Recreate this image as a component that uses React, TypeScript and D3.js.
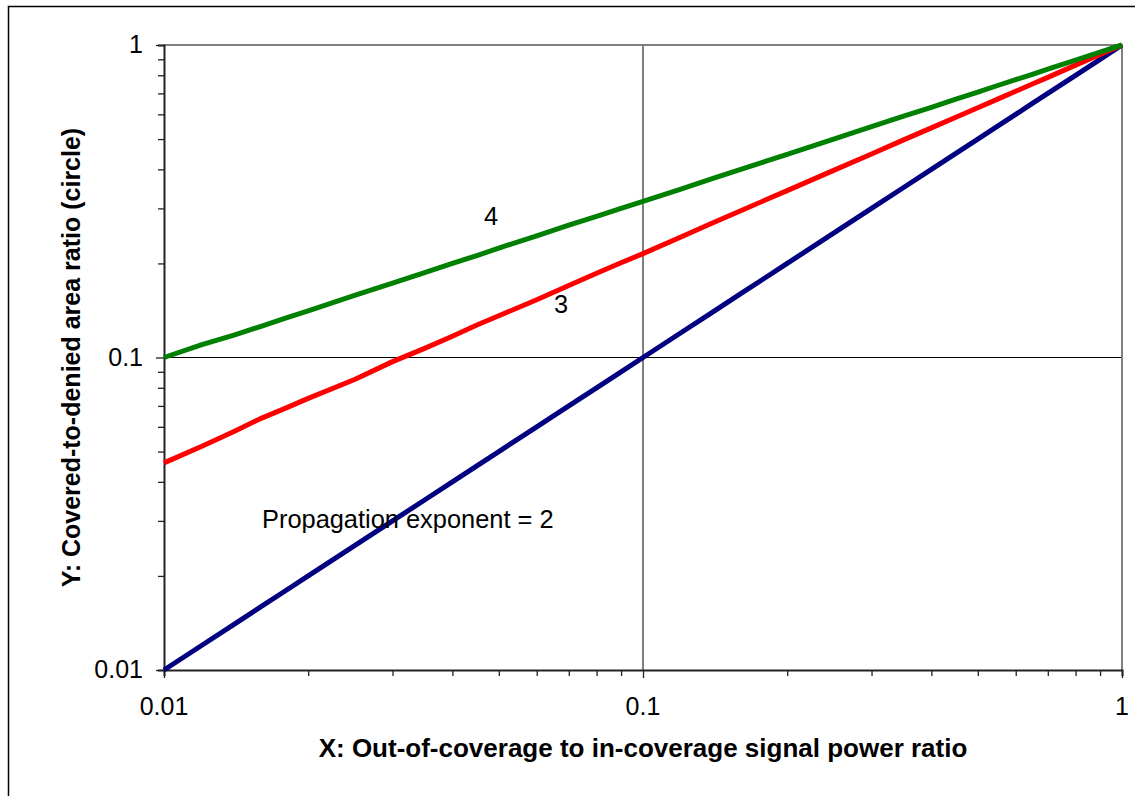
import * as d3 from 'd3';
import React, { useEffect, useRef } from 'react';

// x values (signal power ratio) shared by all three curves
const xValues = [0.01, 0.012, 0.014, 0.016, 0.018, 0.02, 0.025, 0.03, 0.035, 0.04, 0.045, 0.05, 0.06, 0.07, 0.08, 0.09,
    0.1, 0.12, 0.14, 0.16, 0.18, 0.2, 0.25, 0.3, 0.35, 0.4, 0.45, 0.5, 0.55, 0.6, 0.65, 0.7, 0.8, 0.9, 1];

// propagation exponent = 2
const exp2Values = [0.01, 0.012, 0.014, 0.016, 0.018, 0.02, 0.025, 0.03, 0.035, 0.04, 0.045, 0.05, 0.06, 0.07, 0.08, 0.09,
    0.1, 0.12, 0.14, 0.16, 0.18, 0.2, 0.25, 0.3, 0.35, 0.4, 0.45, 0.5, 0.55, 0.6, 0.65, 0.7, 0.8, 0.9, 1];
// propagation exponent = 3
const exp3Values = [0.046, 0.052, 0.058, 0.064, 0.069, 0.074, 0.085, 0.097, 0.107, 0.117, 0.127, 0.136, 0.153, 0.17, 0.186, 0.201,
    0.215, 0.243, 0.27, 0.295, 0.319, 0.342, 0.397, 0.448, 0.497, 0.543, 0.587, 0.63, 0.671, 0.711, 0.75, 0.788, 0.862, 0.932, 1];
// propagation exponent = 4
const exp4Values = [0.1, 0.11, 0.118, 0.126, 0.134, 0.141, 0.158, 0.173, 0.187, 0.2, 0.212, 0.224, 0.245, 0.265, 0.283, 0.3,
    0.316, 0.346, 0.374, 0.4, 0.424, 0.447, 0.5, 0.548, 0.592, 0.632, 0.671, 0.707, 0.742, 0.775, 0.806, 0.837, 0.894, 0.949, 1];

const seriesNames = ['2', '3', '4'];
const seriesColors = ['#000080', '#ff0000', '#008000'];

const majorTicks = [0.01, 0.1, 1];
const tickLabels = ['0.01', '0.1', '1'];

const xTitle = 'X: Out-of-coverage to in-coverage signal power ratio';
const yTitle = 'Y: Covered-to-denied area ratio (circle)';

const App = () => {
    const svgRef = useRef(null);

    useEffect(() => {
        const svg = d3.select(svgRef.current);
        svg.selectAll('*').remove();

        const width = 1135;
        const height = 796;
        const left = 164, right = 1122, top = 45, bottom = 670;
        const font = 'Arial, "Liberation Sans", sans-serif';

        const x = d3.scaleLog().domain([0.01, 1]).range([left, right]);
        const y = d3.scaleLog().domain([0.01, 1]).range([bottom, top]);

        svg.attr('width', width).attr('height', height);

        // outer chart frame, runs off the right/bottom of the window
        svg.append('rect')
            .attr('x', 8.5).attr('y', 6.5)
            .attr('width', 1200).attr('height', 900)
            .attr('fill', 'white')
            .attr('stroke', '#000').attr('stroke-width', 1.5);

        // minor ticks: every integer multiple inside each decade
        const minor = [];
        [0.01, 0.1].forEach(d => { for (let k = 1; k <= 10; k++) minor.push(+(d * k).toFixed(3)); });
        const minorTicks = Array.from(new Set(minor));

        // gridlines at 0.1
        svg.append('line')
            .attr('x1', left).attr('x2', right)
            .attr('y1', y(0.1)).attr('y2', y(0.1))
            .attr('stroke', '#000').attr('stroke-width', 1);
        svg.append('line')
            .attr('x1', x(0.1)).attr('x2', x(0.1))
            .attr('y1', top).attr('y2', bottom)
            .attr('stroke', '#000').attr('stroke-width', 1);

        // top and right plot border (gray)
        svg.append('path')
            .attr('d', `M${left},${top}H${right}V${bottom}`)
            .attr('fill', 'none')
            .attr('stroke', '#808080').attr('stroke-width', 2);

        // axes
        const xAxis = d3.axisBottom(x).tickValues(minorTicks).tickSize(6).tickFormat(() => '');
        const yAxis = d3.axisLeft(y).tickValues(minorTicks).tickSize(6).tickFormat(() => '');

        const gx = svg.append('g').attr('transform', `translate(0,${bottom})`).call(xAxis);
        const gy = svg.append('g').attr('transform', `translate(${left},0)`).call(yAxis);
        [gx, gy].forEach(g => {
            g.select('.domain').attr('stroke', '#222').attr('stroke-width', 2);
            g.selectAll('.tick line').attr('stroke', '#222').attr('stroke-width', 1.3);
        });
        gx.selectAll('.tick line').attr('y2', d => majorTicks.includes(d) ? 8 : 6);
        gy.selectAll('.tick line').attr('x2', d => majorTicks.includes(d) ? -8 : -6);

        // tick labels
        svg.selectAll('.xlabel')
            .data(majorTicks)
            .join('text')
            .attr('class', 'xlabel')
            .attr('x', d => x(d))
            .attr('y', 715)
            .attr('text-anchor', 'middle')
            .style('font-family', font)
            .style('font-size', '25px')
            .text((d, i) => tickLabels[i]);

        svg.selectAll('.ylabel')
            .data(majorTicks)
            .join('text')
            .attr('class', 'ylabel')
            .attr('x', 143)
            .attr('y', d => y(d) + 8)
            .attr('text-anchor', 'end')
            .style('font-family', font)
            .style('font-size', '25px')
            .text((d, i) => tickLabels[i]);

        // curves
        const line = d3.line()
            .x(d => x(d[0]))
            .y(d => y(d[1]));

        const series = [exp2Values, exp3Values, exp4Values];
        series.forEach((vals, i) => {
            svg.append('path')
                .datum(xValues.map((xv, j) => [xv, vals[j]]))
                .attr('d', line)
                .attr('fill', 'none')
                .attr('stroke', seriesColors[i])
                .attr('stroke-width', 5)
                .attr('stroke-linejoin', 'round');
        });

        // curve annotations
        const notes = [
            { text: `Propagation exponent = ${seriesNames[0]}`, x: 262, y: 528, anchor: 'start' },
            { text: seriesNames[1], x: 561, y: 313, anchor: 'middle' },
            { text: seriesNames[2], x: 491, y: 225, anchor: 'middle' },
        ];
        svg.selectAll('.note')
            .data(notes)
            .join('text')
            .attr('class', 'note')
            .attr('x', d => d.x)
            .attr('y', d => d.y)
            .attr('text-anchor', d => d.anchor)
            .style('font-family', font)
            .style('font-size', '25.4px')
            .text(d => d.text);

        // axis titles
        svg.append('text')
            .attr('x', (left + right) / 2)
            .attr('y', 757)
            .attr('text-anchor', 'middle')
            .style('font-family', font)
            .style('font-size', '26px')
            .style('font-weight', 'bold')
            .text(xTitle);

        svg.append('text')
            .attr('transform', `translate(80,${(top + bottom) / 2}) rotate(-90)`)
            .attr('text-anchor', 'middle')
            .style('font-family', font)
            .style('font-size', '25px')
            .style('font-weight', 'bold')
            .text(yTitle);
    }, []);

    return (
        <svg ref={svgRef} style={{ position: 'absolute', left: 0, top: 0, display: 'block' }}></svg>
    );
};

export default App;
